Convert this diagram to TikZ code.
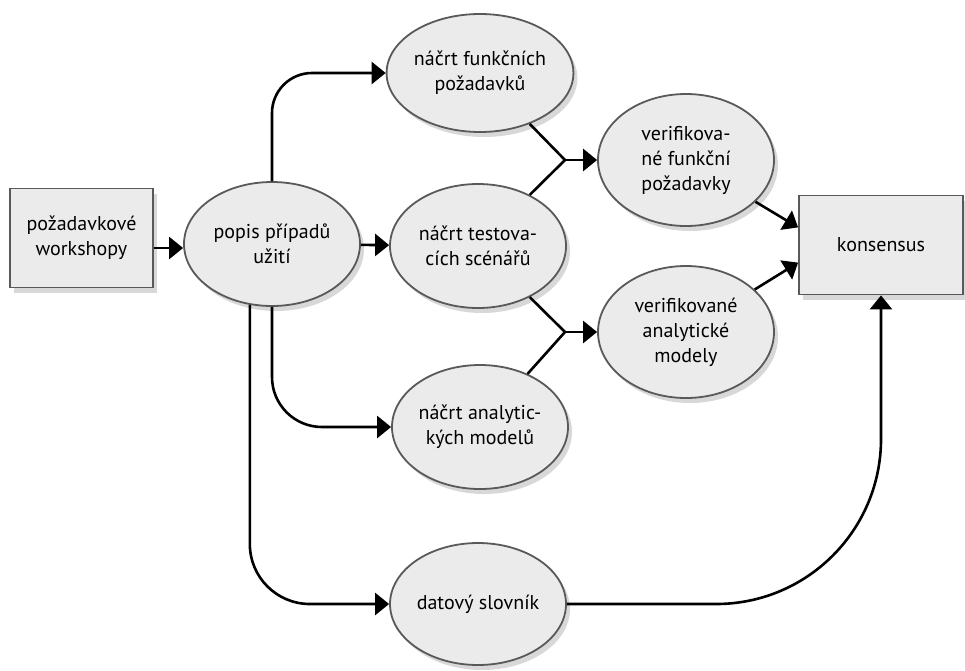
\documentclass[tikz,border=0pt]{standalone}
\usepackage{fontspec}
\setmainfont{PT Sans}
\usetikzlibrary{arrows.meta,shadows,shapes.geometric}
\begin{document}
\begin{tikzpicture}[x=1pt,y=-1pt,
    every node/.style={font=\fontsize{20}{25}\selectfont,align=center},
    proces/.style={ellipse,draw=black!65,line width=1.8pt,fill=black!8,inner sep=0pt,
        minimum width=176pt,minimum height=124pt,
        drop shadow={shadow xshift=4pt,shadow yshift=-5pt,fill=black!30}},
    overeni/.style={proces,minimum height=132pt},
    blok/.style={rectangle,draw=black!65,line width=1.8pt,fill=black!8,inner sep=0pt,
        minimum height=99pt,
        drop shadow={shadow xshift=4pt,shadow yshift=-5pt,fill=black!30}},
    spoj/.style={line width=2.6pt},
    tok/.style={spoj,-{Triangle[length=14pt,width=22pt]}}]
    \useasboundingbox (0,0) rectangle (965,670);

    \node[blok,minimum width=143pt] (work) at (81.5,238) {požadavkové\\workshopy};
    \node[proces] (popis) at (272,244) {popis případů\\užití};

    \node[proces,minimum height=118pt] (funk) at (480,73) {náčrt funkčních\\požadavků};
    \node[proces] (test) at (478,246) {náčrt testova-\\cích scénářů};
    \node[proces] (anal) at (480,427) {náčrt analytic-\\kých modelů};
    \node[proces,minimum height=122pt] (dat) at (478,604) {datový slovník};

    \node[overeni] (vfun) at (686,160) {verifikova-\\né funkční\\požadavky};
    \node[overeni] (vanal) at (686,332) {verifikované\\analytické\\modely};

    \node[blok,minimum width=164pt] (kons) at (881,245) {konsensus};

    \coordinate (j1) at (565,160);
    \coordinate (j2) at (565,332);

    \draw[tok] (work.east |- 0,248) -- (popis.west |- 0,248);
    \draw[tok] (popis) -- (test);
    \draw[tok,rounded corners=40pt] (popis.north) |- (funk.west);
    \draw[tok,rounded corners=50pt] (popis.south) |- (anal.west);
    \draw[tok,rounded corners=60pt] (popis.250) |- (dat.west);

    % spojeni do verifikace
    \draw[spoj] (funk) -- (j1) -- (test);
    \draw[tok] (j1) -- (vfun);
    \draw[spoj] (test) -- (j2) -- (anal);
    \draw[tok] (j2) -- (vanal);

    \draw[tok] (vfun) -- (kons.168);
    \draw[tok] (vanal) -- (kons.192);
    \draw[tok,rounded corners=165pt] (dat.east) -| (kons.south);
\end{tikzpicture}
\end{document}
